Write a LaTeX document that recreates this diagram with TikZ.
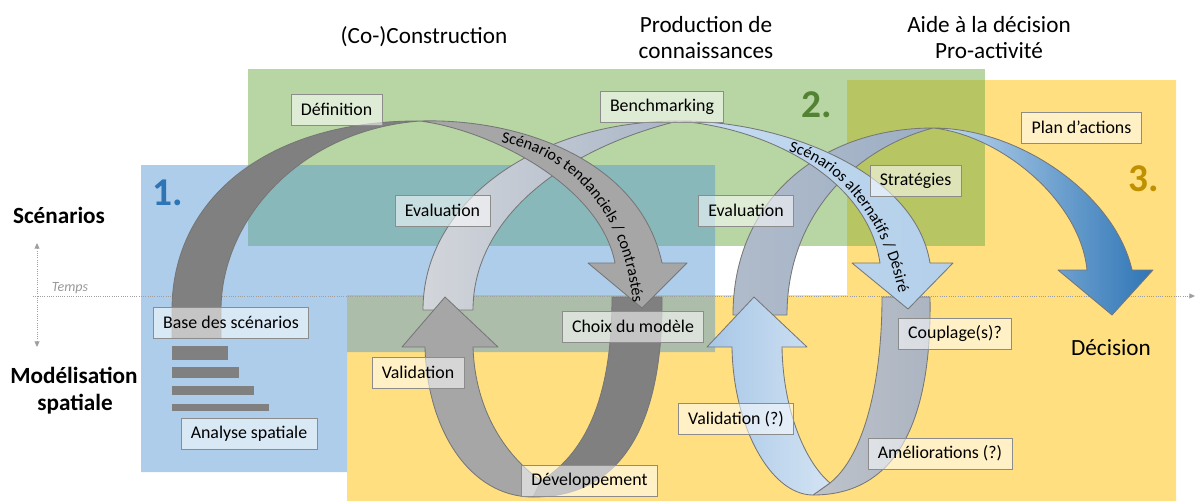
\documentclass[tikz,border=0pt]{standalone}
\usepackage{fontspec}
\setmainfont{Carlito}
\usetikzlibrary{arrows.meta,decorations.text}

\definecolor{zblue}{HTML}{5B9BD5}
\definecolor{zgreen}{HTML}{70AD47}
\definecolor{zyellow}{HTML}{FFC000}
\definecolor{nblue}{HTML}{2E75B6}
\definecolor{ngreen}{HTML}{548235}
\definecolor{ngold}{HTML}{BF9000}
\definecolor{darkband}{HTML}{808080}
\definecolor{greyband}{HTML}{A6A6A6}
\definecolor{bandedge}{HTML}{767676}
\definecolor{boxedge}{HTML}{8C8C8C}
\definecolor{paleL}{HTML}{D2D5DA}
\definecolor{paleR}{HTML}{A9B6C8}
\definecolor{slateL}{HTML}{BEC3CB}
\definecolor{slateR}{HTML}{ABB4C1}
\definecolor{steelL}{HTML}{B0BBCA}
\definecolor{steelR}{HTML}{9DAFC5}
\definecolor{skyL}{HTML}{C6DCF0}
\definecolor{skyR}{HTML}{B3CFEA}
\definecolor{iceL}{HTML}{A7C7E7}
\definecolor{iceR}{HTML}{D3E3F3}
\definecolor{deepL}{HTML}{C2DAEF}
\definecolor{deepR}{HTML}{2E75B6}

\begin{document}
\begin{tikzpicture}[x=0.025cm, y=0.025cm,
    box/.style={draw=boxedge, line width=0.6pt, fill=white, fill opacity=0.55, text opacity=1,
                inner xsep=7pt, minimum height=0.775cm, font=\fontsize{12.7}{15}\selectfont},
    band/.style={draw=bandedge, line width=0.6pt, line join=round},
    title/.style={font=\fontsize{16.5}{20}\selectfont, anchor=base},
    axis/.style={gray!75, densely dotted, line width=0.6pt}]

    \useasboundingbox (0,0) rectangle (1195,-501);

    % Zones
    \fill[zyellow, opacity=0.5] (347,-295) -- (847,-295) -- (847,-80) -- (1176,-80) -- (1176,-501) -- (347,-501) -- cycle;
    \fill[zgreen, opacity=0.5] (248,-69) rectangle (985,-246);
    \fill[zblue, opacity=0.5] (141,-165) -- (715,-165) -- (715,-352) -- (347,-352) -- (347,-472) -- (141,-472) -- cycle;

    % Time axis
    \coordinate (t0) at (33,-296);
    \coordinate (t1) at (1195,-296);
    \coordinate (v0) at (37,-243);
    \coordinate (v1) at (37,-347);
    \draw[axis, -{Triangle[length=4pt,width=3.5pt]}] (t0) -- (t1);
    \draw[axis, {Triangle[length=4pt,width=3.5pt]}-{Triangle[length=4pt,width=3.5pt]}] (v0) -- (v1);
    \node[font=\fontsize{10}{12}\itshape\selectfont, text=gray!80, anchor=base] (temps) at (70,-291) {Temps};

    % Bars of the spatial analysis
    \fill[darkband] (172,-346) rectangle (228,-360);
    \fill[darkband] (172,-367) rectangle (239,-378);
    \fill[darkband] (172,-386) rectangle (254,-395);
    \fill[darkband] (172,-404) rectangle (269,-411);

    % Backs of the bands
    \draw[band, fill=darkband] (172,-338) -- (172,-310) .. controls (172,-196) and (271,-120) .. (420,-121)
        .. controls (300,-130) and (221,-220) .. (221,-310) -- (221,-338) -- cycle;
    \draw[band, fill=darkband] (612,-297) -- (662,-297) .. controls (663,-420) and (625,-497) .. (533,-497)
        -- (541,-481) .. controls (590,-450) and (612,-390) .. cycle;
    \draw[band, left color=paleL, right color=paleR] (423,-310) .. controls (423,-200) and (540,-121) .. (678,-121)
        .. controls (560,-150) and (473,-220) .. (473,-310) -- cycle;
    \draw[band, left color=slateL, right color=slateR] (882,-297) -- (930,-297) .. controls (932,-415) and (900,-495) .. (813,-495)
        -- (830,-483) .. controls (865,-455) and (882,-380) .. cycle;
    \draw[band, left color=steelL, right color=steelR] (733,-315) .. controls (733,-200) and (820,-128) .. (933,-128)
        .. controls (850,-150) and (787,-220) .. (787,-315) -- cycle;

    % Fronts of the bands
    \draw[band, fill=greyband] (420,-121) .. controls (520,-118) and (640,-160) .. (662,-263) -- (687,-263) -- (642,-308)
        -- (588,-263) -- (615,-263) .. controls (600,-185) and (490,-130) .. cycle;
    \draw[band, fill=greyband] (533,-497) .. controls (470,-497) and (427,-430) .. (425,-347) -- (402,-347) -- (445,-297)
        -- (498,-347) -- (473,-347) .. controls (475,-410) and (505,-455) .. (541,-481) -- cycle;
    \draw[band, left color=skyL, right color=skyR] (678,-121) .. controls (780,-120) and (915,-170) .. (930,-263) -- (953,-263)
        -- (908,-309) -- (852,-263) -- (880,-263) .. controls (868,-180) and (770,-128) .. cycle;
    \draw[band, left color=iceL, right color=iceR] (813,-495) .. controls (770,-495) and (733,-425) .. (732,-347) -- (707,-347)
        -- (754,-297) -- (807,-347) -- (782,-347) .. controls (783,-410) and (805,-462) .. (830,-483) -- cycle;
    \draw[band, left color=deepL, right color=deepR] (933,-128) .. controls (1020,-128) and (1115,-195) .. (1132,-270)
        -- (1153,-270) -- (1112,-315) -- (1058,-270) -- (1087,-270) .. controls (1080,-200) and (1000,-135) .. cycle;

    % Texts along the bands
    \path[decorate, decoration={text along path, text align=center,
        text={|\fontsize{11.5}{13}\selectfont|Scénarios tendanciels / contrastés}}]
        (499,-142) .. controls (566,-153) and (624,-207) .. (633,-305);
    \path[decorate, decoration={text along path, text align=center,
        text={|\fontsize{11.5}{13}\selectfont|Scénarios alternatifs / Désiré}}]
        (782,-150) .. controls (830,-158) and (884,-212) .. (900,-300);

    % Labels
    \node[box] (definition) at (336.5,-109.5) {Définition};
    \node[box] (benchmark) at (662,-107) {Benchmarking};
    \node[box] (evalA) at (442.5,-210.5) {Evaluation};
    \node[box] (evalB) at (746,-210.5) {Evaluation};
    \node[box] (strategies) at (915.5,-180.5) {Stratégies};
    \node[box] (plan) at (1081.5,-127.5) {Plan d’actions};
    \node[box] (base) at (231,-322.5) {Base des scénarios};
    \node[box] (analyse) at (249,-433.5) {Analyse spatiale};
    \node[box] (validA) at (418,-372.5) {Validation};
    \node[box] (choix) at (633,-326.5) {Choix du modèle};
    \node[box] (devel) at (589.5,-481) {Développement};
    \node[box] (validB) at (736,-419) {Validation (?)};
    \node[box] (couplage) at (955,-333.5) {Couplage(s)?};
    \node[box] (amelior) at (940,-453.5) {Améliorations (?)};

    % Titles
    \node[title] (cocon) at (424,-43) {(Co-)Construction};
    \node[title] (prodA) at (706,-32) {Production de};
    \node[title] (prodB) at (706,-58) {connaissances};
    \node[title] (aideA) at (989,-32) {Aide à la décision};
    \node[title] (aideB) at (989,-58) {Pro-activité};
    \node[title, font=\fontsize{16.5}{20}\bfseries\selectfont] (scen) at (59,-223) {Scénarios};
    \node[title, font=\fontsize{16.5}{20}\bfseries\selectfont] (model) at (74,-383) {Modélisation};
    \node[title, font=\fontsize{16.5}{20}\bfseries\selectfont] (spat) at (75,-410) {spatiale};
    \node[title] (decision) at (1111,-355) {Décision};

    % Zone numbers
    \node[font=\fontsize{28}{30}\bfseries\selectfont, text=nblue, anchor=base] (one) at (168,-205) {1.};
    \node[font=\fontsize{28}{30}\bfseries\selectfont, text=ngreen, anchor=base] (two) at (817,-117) {2.};
    \node[font=\fontsize{28}{30}\bfseries\selectfont, text=ngold, anchor=base] (three) at (1144,-191) {3.};
\end{tikzpicture}
\end{document}
